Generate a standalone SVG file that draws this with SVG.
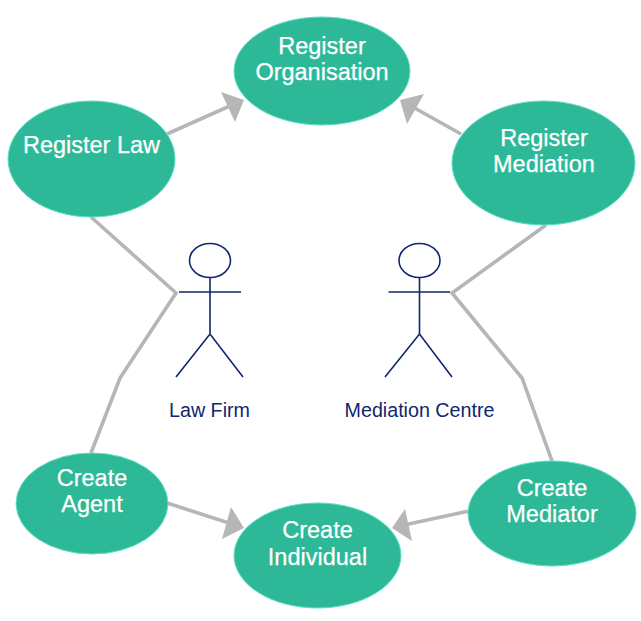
<svg xmlns="http://www.w3.org/2000/svg" width="641" height="621" viewBox="0 0 641 621">
<style>
.n{fill:#2db997;stroke:#5fe0c8;stroke-width:1}
.t{font-family:"Liberation Sans",Arial,sans-serif;font-size:23.5px;fill:#fff;stroke:#fff;stroke-width:.25;text-anchor:middle}
.c{fill:none;stroke:#b6b6b6;stroke-width:3.6;stroke-linejoin:miter}
.h{fill:#b6b6b6;stroke:none}
.a{fill:none;stroke:#10266e;stroke-width:1.6}
.l{font-family:"Liberation Sans",Arial,sans-serif;font-size:19.700px;fill:#10266e;text-anchor:middle}
</style>
<rect width="641" height="621" fill="#fff"/>
<g id="connectors">
<path class="c" d="M167 134L232 105"/><polygon class="h" points="244,100 221,92 235,122"/>
<path class="c" d="M461 134L411 106"/><polygon class="h" points="400,100 424,94 407,124"/>
<path class="c" d="M91 217L176 293L120 378L91 453"/>
<path class="c" d="M546 225L452 293L522 378L552 461"/>
<path class="c" d="M167 503L232 524"/><polygon class="h" points="244,528 231,507 222,539"/>
<path class="c" d="M469 511L404 525"/><polygon class="h" points="392,528 405,509 412,541"/>
</g>
<g id="register-organisation"><ellipse class="n" cx="322" cy="71" rx="88" ry="54"/><text class="t" x="322" y="53.500">Register</text><text class="t" x="322" y="80">Organisation</text></g>
<g id="register-law"><ellipse class="n" cx="91.5" cy="159" rx="83.5" ry="58"/><text class="t" x="91.5" y="153">Register Law</text></g>
<g id="register-mediation"><ellipse class="n" cx="543.5" cy="163" rx="91.5" ry="62"/><text class="t" x="544" y="145.500">Register</text><text class="t" x="544" y="172">Mediation</text></g>
<g id="create-agent"><ellipse class="n" cx="92" cy="503.5" rx="76" ry="50.5"/><text class="t" x="92" y="485.500">Create</text><text class="t" x="92" y="512">Agent</text></g>
<g id="create-individual"><ellipse class="n" cx="317.5" cy="555.5" rx="83.5" ry="52.5"/><text class="t" x="317.5" y="538">Create</text><text class="t" x="317.5" y="565">Individual</text></g>
<g id="create-mediator"><ellipse class="n" cx="552" cy="513.5" rx="84" ry="52.5"/><text class="t" x="552" y="495.500">Create</text><text class="t" x="552" y="522">Mediator</text></g>
<g id="law-firm"><ellipse class="a" cx="210" cy="260.5" rx="20.5" ry="17"/><path class="a" d="M210 277.500V334M179 292H241M176 377L210 334L243 377"/><text class="l" x="209.500" y="417">Law Firm</text></g>
<g id="mediation-centre"><ellipse class="a" cx="419.500" cy="260.500" rx="20.500" ry="17"/><path class="a" d="M419.500 277.500V334M388.500 292H450M385 377L419.500 334L452 377"/><text class="l" x="419.500" y="417">Mediation Centre</text></g>
</svg>
